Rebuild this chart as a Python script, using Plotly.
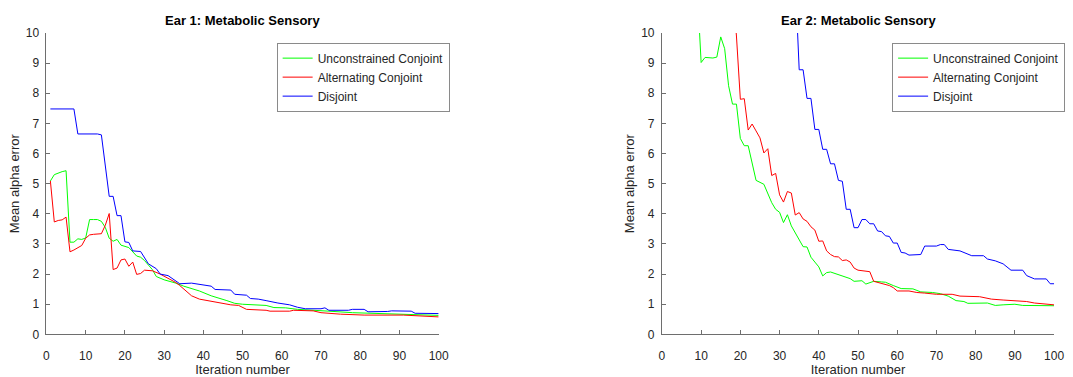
import plotly.graph_objects as go

# ---------------- Data ----------------
# Ear 1
e1_unc_x = [1, 2, 4, 5, 6, 7, 8, 9, 10, 11, 12, 13, 14, 15, 16, 17, 18, 19, 21, 22, 23, 24, 25, 26, 27, 28, 30, 33, 35, 39, 42, 46, 48, 50, 54, 56, 58, 61, 64, 70, 72, 78, 86, 91, 95, 100]
e1_unc_y = [5.09, 5.3, 5.4, 5.43, 3.06, 3.06, 3.17, 3.15, 3.2, 3.81, 3.81, 3.81, 3.75, 3.55, 3.19, 3.09, 3.15, 2.96, 2.88, 2.75, 2.6, 2.56, 2.45, 2.3, 2.15, 1.92, 1.81, 1.7, 1.6, 1.44, 1.28, 1.12, 1.03, 1.0, 0.98, 0.96, 0.89, 0.88, 0.83, 0.8, 0.77, 0.72, 0.69, 0.67, 0.65, 0.63]

e1_alt_x = [1, 2, 3, 4, 5, 6, 7, 8, 9, 10, 11, 12, 13, 14, 15, 16, 17, 18, 19, 20, 21, 22, 23, 24, 25, 27, 29, 31, 33, 34, 35, 36, 37, 39, 41, 43, 45, 47, 49, 50, 51, 56, 57, 62, 63, 68, 70, 75, 81, 91, 95, 100]
e1_alt_y = [5.09, 3.73, 3.78, 3.8, 3.89, 2.74, 2.8, 2.88, 2.95, 3.19, 3.3, 3.32, 3.33, 3.34, 3.62, 4.01, 2.15, 2.2, 2.47, 2.5, 2.26, 2.4, 1.99, 2.02, 2.13, 2.11, 2.0, 1.86, 1.72, 1.62, 1.5, 1.38, 1.28, 1.17, 1.12, 1.06, 1.03, 0.98, 0.96, 0.9, 0.83, 0.8, 0.77, 0.77, 0.8, 0.78, 0.72, 0.67, 0.64, 0.64, 0.62, 0.58]

e1_dis_x = [1, 7, 8, 13, 14, 16, 17, 18, 19, 20, 21, 22, 24, 25, 26, 28, 29, 31, 32, 34, 37, 38, 41, 42, 43, 47, 48, 51, 52, 54, 56, 58, 59, 62, 64, 66, 70, 71, 72, 77, 78, 81, 82, 87, 88, 93, 94, 100]
e1_dis_y = [7.48, 7.48, 6.65, 6.65, 6.62, 4.58, 4.58, 3.94, 3.94, 3.07, 3.05, 2.77, 2.75, 2.55, 2.34, 2.18, 2.0, 1.95, 1.86, 1.68, 1.7, 1.68, 1.62, 1.6, 1.49, 1.47, 1.33, 1.3, 1.19, 1.17, 1.12, 1.06, 1.04, 0.98, 0.9, 0.85, 0.85, 0.88, 0.8, 0.8, 0.83, 0.83, 0.75, 0.76, 0.78, 0.77, 0.7, 0.69]

# Ear 2
e2_unc_x = [9, 10, 11, 12, 13, 14, 15, 16, 17, 18, 19, 20, 21, 22, 23, 24, 26, 28, 29, 30, 31, 32, 33, 35, 36, 37, 38, 39, 40, 41, 42, 43, 45, 47, 48, 49, 51, 52, 54, 56, 57, 59, 61, 64, 66, 69, 71, 73, 75, 77, 78, 83, 85, 87, 90, 92, 100]
e2_unc_y = [11.47, 9.02, 9.19, 9.17, 9.17, 9.2, 9.87, 9.48, 8.25, 7.64, 7.64, 6.5, 6.26, 6.26, 5.7, 5.11, 4.98, 4.37, 4.15, 4.05, 3.71, 3.97, 3.6, 3.14, 2.91, 2.9, 2.56, 2.4, 2.24, 1.94, 2.05, 2.07, 1.99, 1.91, 1.85, 1.76, 1.78, 1.67, 1.76, 1.74, 1.73, 1.62, 1.52, 1.51, 1.41, 1.39, 1.35, 1.27, 1.12, 1.09, 1.03, 1.04, 0.96, 0.98, 1.0, 0.96, 0.95]

e2_alt_x = [18, 19, 20, 21, 22, 23, 24, 25, 26, 27, 28, 29, 30, 31, 32, 33, 34, 35, 36, 37, 38, 39, 40, 41, 42, 43, 44, 45, 46, 47, 48, 49, 50, 53, 54, 56, 58, 59, 60, 63, 65, 67, 70, 74, 76, 81, 84, 87, 93, 95, 100]
e2_alt_y = [11.5, 9.9, 7.8, 7.82, 6.78, 6.98, 6.75, 6.52, 6.02, 6.16, 5.27, 5.34, 4.63, 4.39, 4.74, 4.69, 3.96, 4.04, 3.83, 3.75, 3.57, 3.46, 3.09, 3.1, 2.77, 2.65, 2.58, 2.57, 2.45, 2.47, 2.4, 2.2, 2.13, 2.08, 1.76, 1.7, 1.62, 1.55, 1.44, 1.44, 1.39, 1.37, 1.33, 1.33, 1.27, 1.25, 1.17, 1.14, 1.09, 1.04, 0.98]

e2_dis_x = [34, 35, 36, 37, 38, 39, 40, 41, 42, 43, 44, 45, 46, 47, 48, 49, 50, 51, 52, 53, 54, 55, 56, 57, 58, 59, 60, 61, 62, 63, 66, 67, 70, 71, 72, 73, 76, 77, 79, 82, 83, 85, 86, 87, 89, 92, 93, 95, 98, 99, 100]
e2_dis_y = [11.8, 8.78, 8.78, 7.83, 7.83, 6.8, 6.8, 6.14, 6.14, 5.66, 5.66, 5.11, 5.08, 4.15, 4.15, 3.54, 3.54, 3.81, 3.81, 3.67, 3.67, 3.43, 3.41, 3.27, 3.25, 3.03, 3.03, 2.72, 2.7, 2.63, 2.65, 2.93, 2.93, 2.98, 2.98, 2.82, 2.77, 2.72, 2.61, 2.61, 2.5, 2.44, 2.4, 2.34, 2.13, 2.13, 1.95, 1.84, 1.84, 1.68, 1.68]

series_names = ["Unconstrained Conjoint", "Alternating Conjoint", "Disjoint"]
titles = ["Ear 1: Metabolic Sensory", "Ear 2: Metabolic Sensory"]
x_ticks = [0, 10, 20, 30, 40, 50, 60, 70, 80, 90, 100]
y_ticks = [0, 1, 2, 3, 4, 5, 6, 7, 8, 9, 10]

colors = ["#00ff00", "#ff0000", "#0000ff"]
FONT = "Liberation Sans, Arial, sans-serif"
TXT = "#262626"
AX = "#6e6e6e"

fig = go.Figure()

panels = [
    ([(e1_unc_x, e1_unc_y), (e1_alt_x, e1_alt_y), (e1_dis_x, e1_dis_y)], "x", "y", "legend"),
    ([(e2_unc_x, e2_unc_y), (e2_alt_x, e2_alt_y), (e2_dis_x, e2_dis_y)], "x2", "y2", "legend2"),
]
for data, xa, ya, lg in panels:
    for (xs, ys), name, c in zip(data, series_names, colors):
        fig.add_trace(go.Scatter(x=xs, y=ys, mode="lines", name=name,
                                 line=dict(color=c, width=1), xaxis=xa, yaxis=ya,
                                 legend=lg))

W, H = 1073, 377
left_dom = [44 / W, 441 / W]
right_dom = [667 / W, 1064 / W]
y_dom = [1 - 340 / H, 1 - 27 / H]

def xax(dom, anchor):
    return dict(domain=dom, anchor=anchor, range=[0, 100], tickvals=x_ticks,
                showline=True, linecolor=AX, linewidth=1, ticks="inside", ticklen=4,
                tickcolor=AX, showgrid=False, zeroline=False, ticklabelstandoff=10,
                tickfont=dict(family=FONT, size=12, color=TXT),
                title=dict(text="Iteration number", font=dict(family=FONT, size=13, color=TXT),
                           standoff=5))

def yax(anchor):
    return dict(domain=y_dom, anchor=anchor, range=[0, 10], tickvals=y_ticks,
                showline=True, linecolor=AX, linewidth=1, ticks="inside", ticklen=4,
                tickcolor=AX, showgrid=False, zeroline=False, ticklabelstandoff=4,
                tickfont=dict(family=FONT, size=12, color=TXT),
                title=dict(text="Mean alpha error", font=dict(family=FONT, size=13, color=TXT),
                           standoff=3))

legend_style = dict(bgcolor="white", bordercolor="#8a8a8a", borderwidth=1,
                    font=dict(family=FONT, size=12, color=TXT),
                    xanchor="left", yanchor="top", tracegroupgap=0, itemwidth=30)

fig.update_layout(
    width=W, height=H,
    margin=dict(l=0, r=0, t=0, b=0),
    paper_bgcolor="white", plot_bgcolor="white",
    xaxis=xax(left_dom, "y"), yaxis=yax("x"),
    xaxis2=xax(right_dom, "y2"), yaxis2=yax("x2"),
    legend=dict(x=277 / W, y=1 - 37 / H, **legend_style),
    legend2=dict(x=900 / W, y=1 - 37 / H, **legend_style),
    annotations=[
        dict(text="<b>" + titles[0] + "</b>", x=(left_dom[0] + left_dom[1]) / 2, y=1 - 14 / H,
             xref="paper", yref="paper", showarrow=False, xanchor="center", yanchor="middle",
             font=dict(family=FONT, size=13, color="black")),
        dict(text="<b>" + titles[1] + "</b>", x=(right_dom[0] + right_dom[1]) / 2, y=1 - 14 / H,
             xref="paper", yref="paper", showarrow=False, xanchor="center", yanchor="middle",
             font=dict(family=FONT, size=13, color="black")),
    ],
    showlegend=True,
)

fig.write_html("out.html")
